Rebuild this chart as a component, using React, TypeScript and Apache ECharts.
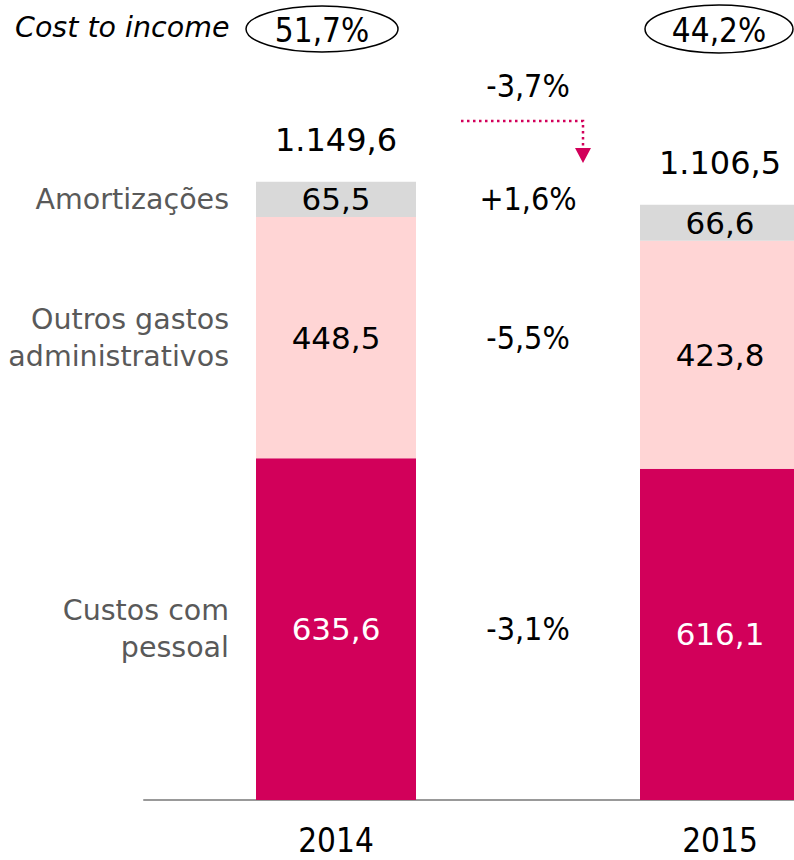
import React, { useEffect, useRef } from "react";
import * as echarts from "echarts";

const categories = ["2014", "2015"];
const seriesNames = ["Custos com\npessoal", "Outros gastos\nadministrativos", "Amortizações"];
const pessoal = [635.6, 616.1];
const outros = [448.5, 423.8];
const amortizacoes = [65.5, 66.6];
const totals = [1149.6, 1106.5];
const segmentChanges = ["-3,1%", "-5,5%", "+1,6%"];
const totalChange = "-3,7%";
const costToIncome = ["51,7%", "44,2%"];
const costLabel = "Cost to income";

const FONT = "'DejaVu Sans', sans-serif";
const FONT_C = "'DejaVu Sans Condensed', 'DejaVu Sans', sans-serif";
const MAGENTA = "#D2005A";
const PINK = "#FFD5D5";
const GREY = "#D9D9D9";

function fmt(v: number): string {
  const [i, d] = v.toFixed(1).split(".");
  const grouped = i.replace(/\B(?=(\d{3})+(?!\d))/g, ".");
  return grouped + "," + d;
}

export default function App() {
  const ref = useRef<HTMLDivElement>(null);
  useEffect(() => {
    document.body.style.margin = "0";
    const chart = echarts.init(ref.current!, null, { renderer: "svg" });
    const stacks = [pessoal, outros, amortizacoes];
    const colors = [MAGENTA, PINK, GREY];
    const labelColors = ["#ffffff", "#000000", "#000000"];
    const mids2014: number[] = [];
    let acc = 0;
    stacks.forEach((s) => {
      mids2014.push(acc + s[0] / 2);
      acc += s[0];
    });

    const barSeries = stacks.map((s, k) => ({
      type: "bar",
      name: seriesNames[k],
      stack: "total",
      barWidth: 160,
      data: s,
      itemStyle: { color: colors[k] },
      label: {
        show: true,
        position: "inside",
        formatter: (p: any) => fmt(p.value),
        color: labelColors[k],
        fontFamily: FONT,
        fontSize: 31,
      },
    }));

    const scatterBase = {
      type: "scatter",
      symbolSize: 0,
      itemStyle: { opacity: 1 },
    };

    chart.setOption({
      animation: false,
      grid: { left: 144, width: 768, top: 47, bottom: 60, outerBoundsMode: "none", containLabel: false },
      xAxis: [
        {
          type: "category",
          data: categories,
          axisLine: { lineStyle: { color: "#999999", width: 2 } },
          axisTick: { show: false },
          axisLabel: { color: "#000", fontFamily: FONT_C, fontSize: 33, margin: 24 },
        },
        { type: "value", min: -0.5, max: 1.5, show: false },
      ],
      yAxis: { type: "value", min: 0, max: 1400, show: false },
      series: [
        ...barSeries,
        {
          ...scatterBase,
          data: totals.map((t, i) => [categories[i], t]),
          label: {
            show: true,
            position: "inside",
            offset: [0, -42],
            formatter: (p: any) => fmt(p.value[1]),
            color: "#000",
            opacity: 1,
            fontFamily: FONT,
            fontSize: 32,
          },
        },
        {
          ...scatterBase,
          data: mids2014.map((m, k) => ({ value: [categories[0], m], name: seriesNames[k] })),
          label: {
            show: true,
            position: "left",
            distance: 107,
            formatter: (p: any) => p.name,
            color: "#595959",
            opacity: 1,
            fontFamily: FONT,
            fontSize: 28.5,
            lineHeight: 37,
            align: "right",
          },
        },
        {
          ...scatterBase,
          xAxisIndex: 1,
          data: [
            ...mids2014.map((m, k) => ({ value: [0.5, m], name: segmentChanges[k] })),
            { value: [0.5, totals[0]], name: totalChange, label: { offset: [0, -96] } },
          ],
          label: {
            show: true,
            position: "inside",
            formatter: (p: any) => p.name,
            color: "#000",
            opacity: 1,
            fontFamily: FONT_C,
            fontSize: 32,
          },
        },
      ],
      graphic: [
        {
          type: "text",
          left: 15,
          top: 13,
          style: { text: costLabel, font: `italic 28.5px ${FONT}`, fill: "#000" },
        },
        {
          type: "ellipse",
          shape: { cx: 322, cy: 29, rx: 76, ry: 23 },
          style: { fill: "none", stroke: "#000", lineWidth: 1.5 },
        },
        {
          type: "text",
          x: 322,
          y: 30,
          style: { text: costToIncome[0], font: `33px ${FONT_C}`, fill: "#000", align: "center", verticalAlign: "middle" },
        },
        {
          type: "ellipse",
          shape: { cx: 719, cy: 29, rx: 74, ry: 24 },
          style: { fill: "none", stroke: "#000", lineWidth: 1.5 },
        },
        {
          type: "text",
          x: 719,
          y: 30,
          style: { text: costToIncome[1], font: `33px ${FONT_C}`, fill: "#000", align: "center", verticalAlign: "middle" },
        },
        {
          type: "polyline",
          shape: { points: [[461, 121], [583, 121], [583, 148]] },
          style: { stroke: MAGENTA, lineWidth: 2.5, lineDash: [2.5, 3.5], fill: "none" },
        },
        {
          type: "polygon",
          shape: { points: [[575, 148], [591, 148], [583, 163]] },
          style: { fill: MAGENTA },
        },
      ],
    });
    return () => chart.dispose();
  }, []);
  return <div ref={ref} style={{ width: 794, height: 860 }} />;
}
